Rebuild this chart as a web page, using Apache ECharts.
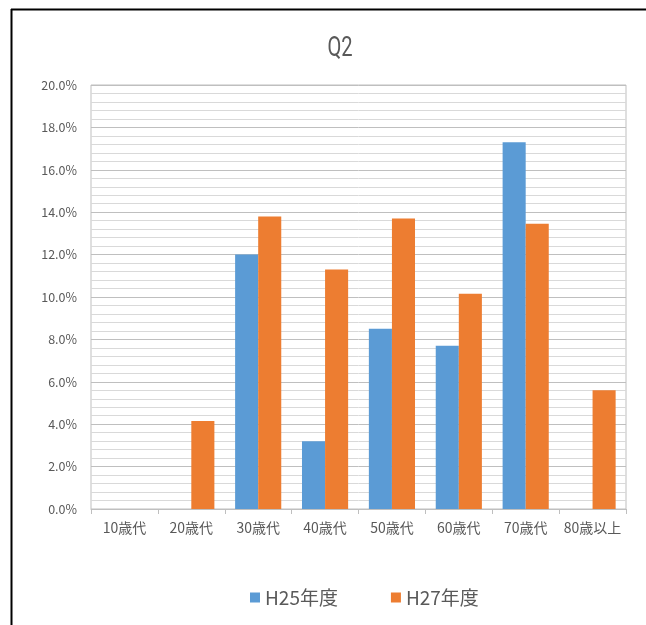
<!DOCTYPE html>
<html>
<head>
<meta charset="utf-8">
<script src="https://cdn.jsdelivr.net/npm/echarts@6/dist/echarts.min.js"></script>
<style>
html,body{margin:0;padding:0;background:#fff;}
#chart{width:646px;height:625px;}
</style>
</head>
<body>
<div id="chart"></div>
<script>
const categories = ['10歳代','20歳代','30歳代','40歳代','50歳代','60歳代','70歳代','80歳以上'];
const h25 = [null, null, 12.0, 3.2, 8.5, 7.7, 17.3, null];
const h27 = [null, 4.15, 13.8, 11.3, 13.7, 10.15, 13.45, 5.6];
const seriesNames = ['H25年度','H27年度'];
const chartTitle = 'Q2';

const textColor = '#595959';
const jp = '"Noto Sans CJK JP", "Noto Sans", sans-serif';

const chart = echarts.init(document.getElementById('chart'), null, {renderer:'canvas'});
chart.setOption({
  animation: false,
  backgroundColor: '#ffffff',
  legend: {
    data: seriesNames,
    left: 245,
    top: 583,
    icon: 'rect',
    itemWidth: 10,
    itemHeight: 10,
    itemGap: 53,
    textStyle: { fontFamily: jp, fontSize: 19, color: textColor }
  },
  grid: {
    left: 91, right: 20, top: 85, bottom: 116,
    show: true, borderColor: '#bfbfbf', borderWidth: 1
  },
  xAxis: {
    type: 'category',
    data: categories,
    axisLine: { lineStyle: { color: '#bfbfbf' } },
    axisTick: { show: true, length: 5, interval: 0, lineStyle: { color: '#bfbfbf' } },
    axisLabel: { interval: 0, fontFamily: jp, fontSize: 14, color: textColor, margin: 12 }
  },
  yAxis: {
    type: 'value',
    min: 0, max: 20, interval: 2,
    axisLine: { show: false },
    axisTick: { show: false },
    axisLabel: {
      fontFamily: jp, fontSize: 12.5, color: textColor, margin: 14,
      formatter: v => v.toFixed(1) + '%'
    },
    splitLine: { lineStyle: { color: '#bfbfbf', width: 1 } },
    minorTick: { show: false, splitNumber: 5 },
    minorSplitLine: { show: true, lineStyle: { color: '#d9d9d9', width: 1 } }
  },
  series: [
    { name: seriesNames[0], type: 'bar', data: h25, barGap: '0%', barCategoryGap: '31%',
      itemStyle: { color: '#5B9BD5' } },
    { name: seriesNames[1], type: 'bar', data: h27, barGap: '0%', barCategoryGap: '31%',
      itemStyle: { color: '#ED7D31' } }
  ],
  graphic: [
    { type: 'text', x: 340, y: 49, scaleX: 0.72,
      style: { text: chartTitle, fill: textColor, font: '28px Roboto, sans-serif',
               textAlign: 'center', textVerticalAlign: 'middle' } },
    { type: 'line', shape: { x1: 11, y1: 9.5, x2: 646, y2: 9.5 }, style: { stroke: '#000', lineWidth: 2 } },
    { type: 'line', shape: { x1: 11.5, y1: 9, x2: 11.5, y2: 625 }, style: { stroke: '#000', lineWidth: 2 } }
  ]
});
</script>
</body>
</html>
